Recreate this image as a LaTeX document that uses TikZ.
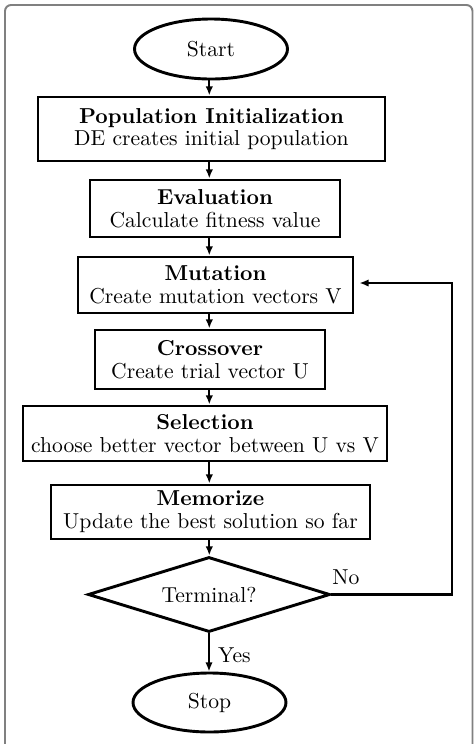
\documentclass[tikz,border=0pt]{standalone}
\usetikzlibrary{shapes.geometric,arrows.meta}
\newcommand\pxlen{0.4628pt}
\begin{document}
\begin{tikzpicture}[x=0.4628pt,y=-0.4628pt,
  box/.style={draw, line width=1.35pt, inner sep=0pt, align=center},
  term/.style={draw, ellipse, line width=1.35pt, inner sep=0pt},
  decide/.style={draw, diamond, shape aspect=3.2, line width=1.35pt, inner sep=0pt},
  arr/.style={-{Latex[length=4.2pt,width=3.4pt]}, line width=1pt},
  lab/.style={inner sep=1pt}]
\useasboundingbox (0,0) rectangle (476,744);
\begin{scope}
\clip (0,0) rectangle (476,744);
\draw[draw=black!50, line width=0.9pt, rounded corners=2.8pt] (5,5) rectangle (472.5,790);
\end{scope}
\coordinate (ax) at (209.3,0);
\coordinate (fb) at (452,0);
\node[term, minimum width=153*\pxlen, minimum height=60*\pxlen] (start) at (211,49) {Start};
\node[box, minimum width=347*\pxlen, minimum height=64*\pxlen] (pop) at (211.5,129) {\textbf{Population Initialization}\\[-1.5pt] DE creates initial population};
\node[box, minimum width=250*\pxlen, minimum height=57*\pxlen] (eval) at (215,208.5) {\textbf{Evaluation}\\[-1.5pt] Calculate fitness value};
\node[box, minimum width=275*\pxlen, minimum height=56*\pxlen] (mut) at (215.5,285) {\textbf{Mutation}\\[-1.5pt] Create mutation vectors V};
\node[box, minimum width=230*\pxlen, minimum height=59*\pxlen] (cross) at (210,359.5) {\textbf{Crossover}\\[-1.5pt] Create trial vector U};
\node[box, minimum width=364*\pxlen, minimum height=55*\pxlen] (sel) at (205,433.5) {\textbf{Selection}\\[-1.5pt] choose better vector between U vs V};
\node[box, minimum width=319*\pxlen, minimum height=54*\pxlen] (mem) at (210.5,512) {\textbf{Memorize}\\[-1.5pt] Update the best solution so far};
\node[decide, minimum width=242*\pxlen, minimum height=75*\pxlen] (dec) at (209,594.5) {Terminal?};
\node[term, minimum width=153*\pxlen, minimum height=59*\pxlen] (stop) at (209.5,702.5) {Stop};
\draw[arr] (start.south -| ax) -- (pop.north -| ax);
\draw[arr] (pop.south -| ax) -- (eval.north -| ax);
\draw[arr] (eval.south -| ax) -- (mut.north -| ax);
\draw[arr] (mut.south -| ax) -- (cross.north -| ax);
\draw[arr] (cross.south -| ax) -- (sel.north -| ax);
\draw[arr] (sel.south -| ax) -- (mem.north -| ax);
\draw[arr] (mem.south -| ax) -- (dec.north -| ax);
\draw[arr] (dec.south) -- (stop.north -| dec.south);
\draw[arr] (dec.east) -| (fb |- 0,283) -- ([xshift=2.3pt]mut.east |- 0,283);
\node[lab] (no) at (346,577) {No};
\node[lab] (yes) at (234.5,655) {Yes};
\end{tikzpicture}
\end{document}
